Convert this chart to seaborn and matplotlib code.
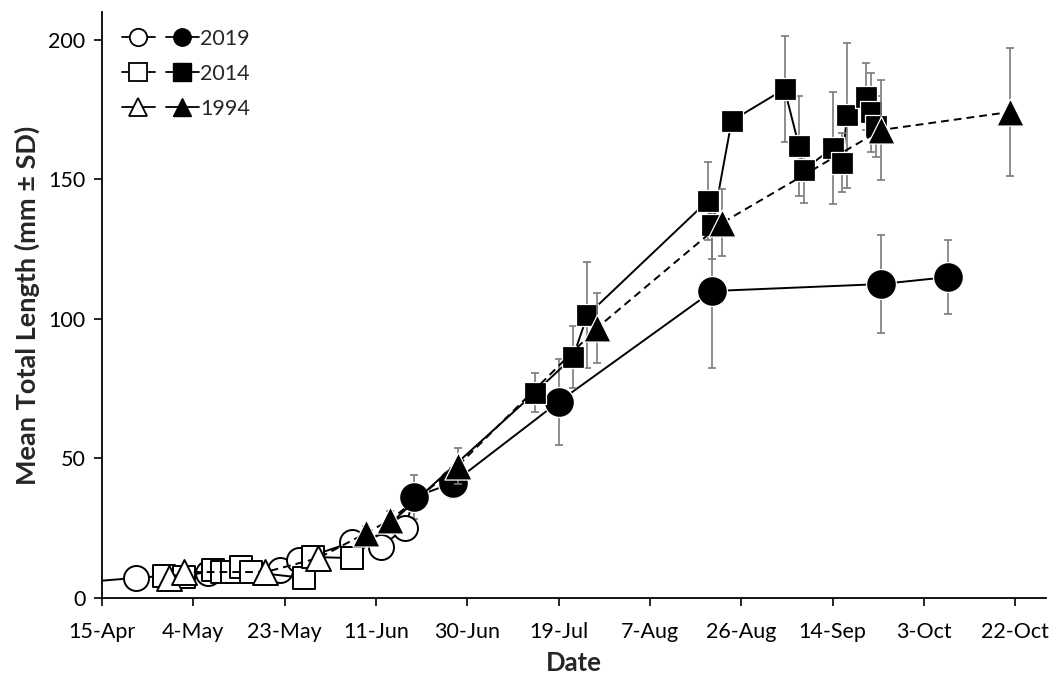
import matplotlib
matplotlib.use("Agg")
import matplotlib.pyplot as plt
from matplotlib.lines import Line2D
from matplotlib.legend_handler import HandlerTuple
import pandas as pd
import seaborn as sns

# Common calendar year used to place every season on one day-of-year axis
AXIS_YEAR = 2021

tick_labels = ["15-Apr", "4-May", "23-May", "11-Jun", "30-Jun", "19-Jul",
               "7-Aug", "26-Aug", "14-Sep", "3-Oct", "22-Oct"]

# 2019 cohort
dates_2019_open = ["04-05", "04-22", "05-07", "05-22", "05-26", "06-06", "06-12", "06-17"]
len_2019_open = [4.8, 7.2, 9.0, 10.0, 13.6, 20.0, 18.3, 25.0]
dates_2019_fill = ["06-19", "06-27", "07-19", "08-20", "09-24", "10-08"]
len_2019_fill = [36.2, 41.2, 70.3, 110.0, 112.5, 115.0]
sd_2019_fill = [8.0, 5.4, 15.5, 27.6, 17.7, 13.2]

# 2014 cohort
dates_2014_open = ["04-28", "05-02", "05-08", "05-10", "05-12", "05-14", "05-16",
                   "05-27", "05-29", "06-06"]
len_2014_open = [8.0, 7.5, 10.0, 9.3, 9.3, 11.0, 9.3, 7.2, 14.7, 14.3]
dates_2014_fill = ["07-14", "07-22", "07-25", "08-19", "08-20", "08-24", "09-04",
                   "09-07", "09-08", "09-14", "09-16", "09-17", "09-21", "09-22", "09-23"]
len_2014_fill = [73.5, 86.4, 101.4, 142.3, 133.5, 171.0, 182.4,
                 162.0, 153.4, 161.3, 156.0, 173.0, 179.6, 174.0, 169.0]
sd_2014_fill = [7.0, 11.0, 19.0, 14.0, 12.0, 3.0, 19.0,
                18.0, 12.0, 20.0, 10.5, 26.0, 12.0, 14.0, 11.0]

# 1994 cohort
dates_1994_open = ["04-29", "05-02", "05-19", "05-30"]
len_1994_open = [7.2, 9.3, 9.3, 14.3]
dates_1994_fill = ["06-09", "06-14", "06-28", "07-27", "08-22", "09-24", "10-21"]
len_1994_fill = [23.3, 28.0, 47.3, 96.8, 134.4, 167.7, 174.2]
sd_1994_fill = [2.5, 3.0, 6.5, 12.5, 12.0, 18.0, 23.0]


def to_dates(md):
    return pd.to_datetime([f"{AXIS_YEAR}-{d}" for d in md])


def cohort_frame(d_open, v_open, d_fill, v_fill, sd_fill):
    op = pd.DataFrame({"date": to_dates(d_open), "length": v_open,
                       "sd": [0.0] * len(v_open), "stage": "open"})
    fi = pd.DataFrame({"date": to_dates(d_fill), "length": v_fill,
                       "sd": sd_fill, "stage": "filled"})
    return pd.concat([op, fi], ignore_index=True).sort_values("date")


cohorts = [
    ("2019", cohort_frame(dates_2019_open, len_2019_open, dates_2019_fill, len_2019_fill, sd_2019_fill),
     "o", 18, 21.5, "-"),
    ("2014", cohort_frame(dates_2014_open, len_2014_open, dates_2014_fill, len_2014_fill, sd_2014_fill),
     "s", 16, 16.5, "-"),
    ("1994", cohort_frame(dates_1994_open, len_1994_open, dates_1994_fill, len_1994_fill, sd_1994_fill),
     "^", 18, 19.5, (0, (4, 2.6))),
]

sns.set_style("ticks")
plt.rcParams["font.family"] = ["Lato", "DejaVu Sans"]

W, H = 1049, 677
fig = plt.figure(figsize=(W / 100, H / 100), dpi=100)
ax = fig.add_axes([102 / W, (H - 598) / H, (1046 - 102) / W, (598 - 12) / H])

z = 2
for name, df, mk, ms_open, ms_fill, ls in cohorts:
    sns.lineplot(data=df, x="date", y="length", color="black", linewidth=1.4,
                 linestyle=ls, estimator=None, sort=True, ax=ax, zorder=z)
    fi = df[df["stage"] == "filled"]
    op = df[df["stage"] == "open"]
    ax.errorbar(fi["date"], fi["length"], yerr=fi["sd"], fmt="none",
                ecolor="#7a7a7a", elinewidth=1.2, capsize=2.6, capthick=1.2,
                zorder=z + 0.1)
    sns.scatterplot(data=op, x="date", y="length", marker=mk, s=ms_open ** 2,
                    color="white", edgecolor="black", linewidth=1.4,
                    ax=ax, zorder=z + 0.2, legend=False)
    sns.scatterplot(data=fi, x="date", y="length", marker=mk, s=ms_fill ** 2,
                    color="black", edgecolor="white", linewidth=0.9,
                    ax=ax, zorder=z + 0.3, legend=False)
    z += 1

tick_dates = pd.to_datetime([f"{t}-{AXIS_YEAR}" for t in tick_labels], format="%d-%b-%Y")
start = tick_dates[0]
ax.set_xlim(start, start + pd.Timedelta(days=196.4))
ax.set_xticks(tick_dates)
ax.set_xticklabels(tick_labels)
ax.set_ylim(0, 210)
ax.set_yticks([0, 50, 100, 150, 200])

ax.tick_params(axis="both", direction="out", length=6, width=1.2,
               colors="black", labelsize=15.5)
ax.tick_params(axis="x", pad=11)
ax.tick_params(axis="y", pad=6)
for side in ("left", "bottom"):
    ax.spines[side].set_linewidth(1.3)
    ax.spines[side].set_color("black")
sns.despine(ax=ax)

ax.set_xlabel("Date", fontsize=18.5, fontweight="bold", labelpad=7)
ax.set_ylabel("Mean Total Length (mm ± SD)", fontsize=19.5, fontweight="bold", labelpad=6)

handles = []
for name, df, mk, ms_open, ms_fill, ls in cohorts:
    h_open = Line2D([], [], color="black", lw=1.3, marker=mk, markersize=12.5,
                    markerfacecolor="white", markeredgecolor="black", markeredgewidth=1.3)
    h_fill = Line2D([], [], color="black", lw=1.3, marker=mk, markersize=12.5,
                    markerfacecolor="black", markeredgecolor="black")
    handles.append((h_open, h_fill))
ax.legend(handles=handles, labels=[c[0] for c in cohorts],
          handler_map={tuple: HandlerTuple(ndivide=None, pad=0.5)},
          loc="upper left", bbox_to_anchor=(0.006, 0.995), frameon=False,
          fontsize=15.5, handlelength=3.6, handletextpad=0.05, labelspacing=0.69,
          borderaxespad=0.25)

fig.savefig("out.png", dpi=100)
